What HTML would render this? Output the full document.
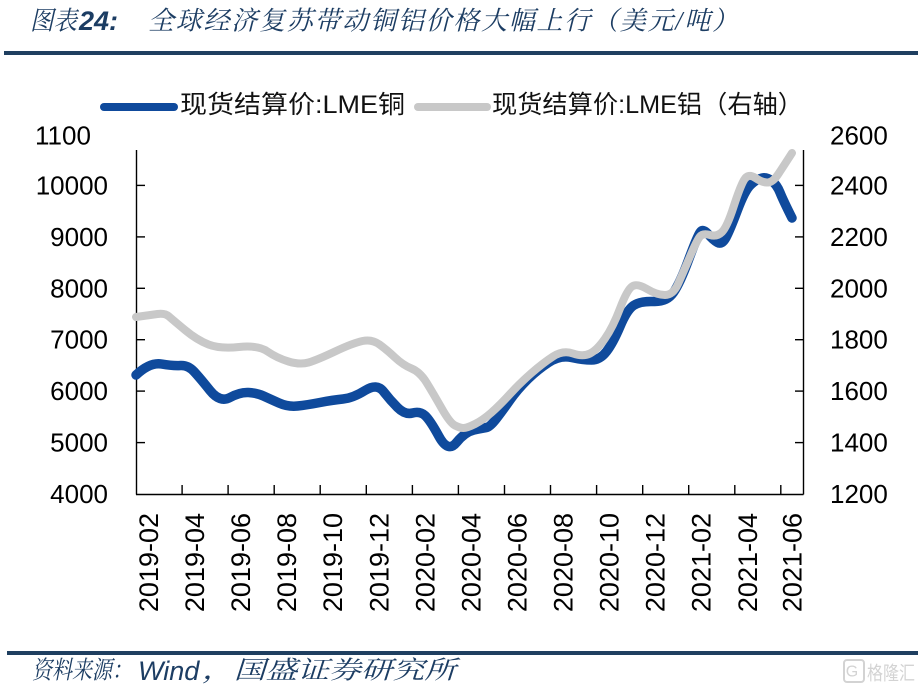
<!DOCTYPE html>
<html>
<head>
<meta charset="utf-8">
<style>
  html,body{margin:0;padding:0;background:#fff;}
  svg{display:block;}
</style>
</head>
<body>
<svg width="918" height="691" viewBox="0 0 918 691" xmlns="http://www.w3.org/2000/svg">
  <rect x="0" y="0" width="918" height="691" fill="#ffffff"/>

  <!-- Title -->
  <g font-family="'Liberation Serif','Noto Serif CJK SC',serif" font-style="italic" fill="#1c3d63">
    <text x="30" y="21" font-size="26" dominant-baseline="central" textLength="47" lengthAdjust="spacingAndGlyphs">图表</text>
    <text x="79" y="21" font-size="27" font-weight="bold" font-family="'Liberation Sans',sans-serif" dominant-baseline="central">24:</text>
    <text x="148" y="21" font-size="26" dominant-baseline="central" textLength="590" lengthAdjust="spacing">全球经济复苏带动铜铝价格大幅上行（美元/吨）</text>
  </g>
  <rect x="4" y="51" width="914" height="4" fill="#1f3f60"/>

  <!-- Legend -->
  <line x1="104" y1="107" x2="174" y2="107" stroke="#0f4a9c" stroke-width="8" stroke-linecap="round"/>
  <text x="180" y="105" font-size="25" font-family="'Liberation Sans','Noto Sans CJK SC',sans-serif" fill="#111" dominant-baseline="central" textLength="225" lengthAdjust="spacingAndGlyphs">现货结算价:LME铜</text>
  <line x1="418" y1="107" x2="487" y2="107" stroke="#c8c8c8" stroke-width="8" stroke-linecap="round"/>
  <text x="492" y="105" font-size="25" font-family="'Liberation Sans','Noto Sans CJK SC',sans-serif" fill="#111" dominant-baseline="central" textLength="311" lengthAdjust="spacingAndGlyphs">现货结算价:LME铝（右轴）</text>

  <!-- Axes -->
  <g stroke="#000" stroke-width="1.4" fill="none">
    <line x1="136.5" y1="150" x2="136.5" y2="494.5"/>
    <line x1="136" y1="494.5" x2="803.5" y2="494.5"/>
    <line x1="803.5" y1="150" x2="803.5" y2="494.5"/>
    <line x1="136" y1="442.6" x2="145" y2="442.6"/>
    <line x1="136" y1="391.1" x2="145" y2="391.1"/>
    <line x1="136" y1="339.7" x2="145" y2="339.7"/>
    <line x1="136" y1="288.3" x2="145" y2="288.3"/>
    <line x1="136" y1="236.9" x2="145" y2="236.9"/>
    <line x1="136" y1="185.4" x2="145" y2="185.4"/>
    <line x1="795" y1="442.6" x2="803.5" y2="442.6"/>
    <line x1="795" y1="391.1" x2="803.5" y2="391.1"/>
    <line x1="795" y1="339.7" x2="803.5" y2="339.7"/>
    <line x1="795" y1="288.3" x2="803.5" y2="288.3"/>
    <line x1="795" y1="236.9" x2="803.5" y2="236.9"/>
    <line x1="795" y1="185.4" x2="803.5" y2="185.4"/>
    <line x1="182.1" y1="485" x2="182.1" y2="494.5"/>
    <line x1="228.1" y1="485" x2="228.1" y2="494.5"/>
    <line x1="274.2" y1="485" x2="274.2" y2="494.5"/>
    <line x1="320.2" y1="485" x2="320.2" y2="494.5"/>
    <line x1="366.3" y1="485" x2="366.3" y2="494.5"/>
    <line x1="412.4" y1="485" x2="412.4" y2="494.5"/>
    <line x1="458.4" y1="485" x2="458.4" y2="494.5"/>
    <line x1="504.5" y1="485" x2="504.5" y2="494.5"/>
    <line x1="550.5" y1="485" x2="550.5" y2="494.5"/>
    <line x1="596.6" y1="485" x2="596.6" y2="494.5"/>
    <line x1="642.7" y1="485" x2="642.7" y2="494.5"/>
    <line x1="688.7" y1="485" x2="688.7" y2="494.5"/>
    <line x1="734.8" y1="485" x2="734.8" y2="494.5"/>
    <line x1="780.8" y1="485" x2="780.8" y2="494.5"/>
  </g>

  <!-- Left axis labels -->
  <g font-family="'Liberation Sans',sans-serif" font-size="26" fill="#000" text-anchor="end" dominant-baseline="central">
    <text x="108" y="494">4000</text>
    <text x="108" y="442.6">5000</text>
    <text x="108" y="391.1">6000</text>
    <text x="108" y="339.7">7000</text>
    <text x="108" y="288.3">8000</text>
    <text x="108" y="236.9">9000</text>
    <text x="108" y="185.4">10000</text>
  </g>
  <text x="35" y="135.5" font-family="'Liberation Sans',sans-serif" font-size="26" fill="#000" dominant-baseline="central">1100</text>

  <!-- Right axis labels -->
  <g font-family="'Liberation Sans',sans-serif" font-size="26" fill="#000" dominant-baseline="central">
    <text x="830" y="494">1200</text>
    <text x="830" y="442.6">1400</text>
    <text x="830" y="391.1">1600</text>
    <text x="830" y="339.7">1800</text>
    <text x="830" y="288.3">2000</text>
    <text x="830" y="236.9">2200</text>
    <text x="830" y="185.4">2400</text>
    <text x="830" y="135.5">2600</text>
  </g>

  <!-- X labels -->
  <g font-family="'Liberation Sans',sans-serif" font-size="27" fill="#000" text-anchor="end" dominant-baseline="central">
    <text transform="translate(149,513) rotate(-90)">2019-02</text>
    <text transform="translate(195.1,513) rotate(-90)">2019-04</text>
    <text transform="translate(241.1,513) rotate(-90)">2019-06</text>
    <text transform="translate(287.2,513) rotate(-90)">2019-08</text>
    <text transform="translate(333.2,513) rotate(-90)">2019-10</text>
    <text transform="translate(379.3,513) rotate(-90)">2019-12</text>
    <text transform="translate(425.4,513) rotate(-90)">2020-02</text>
    <text transform="translate(471.4,513) rotate(-90)">2020-04</text>
    <text transform="translate(517.5,513) rotate(-90)">2020-06</text>
    <text transform="translate(563.5,513) rotate(-90)">2020-08</text>
    <text transform="translate(609.6,513) rotate(-90)">2020-10</text>
    <text transform="translate(655.7,513) rotate(-90)">2020-12</text>
    <text transform="translate(701.7,513) rotate(-90)">2021-02</text>
    <text transform="translate(747.8,513) rotate(-90)">2021-04</text>
    <text transform="translate(792.5,513) rotate(-90)">2021-06</text>
  </g>

  <!-- Copper (blue) -->
  <path fill="none" stroke="#0f4a9c" stroke-width="9.5" stroke-linecap="round" stroke-linejoin="round"
    d="M136,375 Q150,362 161.5,364 Q173,366 180.5,365.5 Q188,365 194,371.5 Q200,378 210,390.5 Q220,403 230,397.5 Q240,392 248.5,392.5 Q257,393 263.5,396 Q270,399 279,403 Q288,407 297.5,406 Q307,405 320,402.5 Q333,400 343,399 Q353,398 365,390.5 Q377,383 383.5,391.5 Q390,400 397.5,407.5 Q405,415 412.5,413 Q420,411 425,415.5 Q430,420 439,436.5 Q448,453 456.5,442.5 Q465,432 474,430 Q483,428 486.5,427.5 Q490,427 496.5,418.5 Q503,410 510,400 Q517,390 527,380 Q537,370 548.5,362.5 Q560,355 571.5,357.5 Q583,360 591.5,360 Q600,360 606.5,351.5 Q613,343 620,326.5 Q627,310 633.5,305.5 Q640,301 653.5,301.5 Q667,302 673.5,292.5 Q680,283 688.5,260 Q697,237 700,232.5 Q703,228 708,234 Q713,240 717.5,242.5 Q722,245 726,237.5 Q730,230 737.5,210 Q745,190 751,184.5 Q757,179 762,178 Q767,177 772,181 Q777,185 780,192.5 Q783,200 792,218"/>

  <!-- Aluminium (gray) -->
  <path fill="none" stroke="#c8c8c8" stroke-width="8" stroke-linecap="round" stroke-linejoin="round"
    d="M136,317 Q150,315 157.5,314 Q165,313 169,316.5 Q173,320 185,330 Q197,340 208.5,344.5 Q220,349 239,347 Q258,345 267.5,351.5 Q277,358 288.5,361.5 Q300,365 308.5,362.5 Q317,360 335,351.5 Q353,343 362.5,341 Q372,339 379.5,344.5 Q387,350 395,357.5 Q403,365 411.5,368.5 Q420,372 426.5,382.5 Q433,393 441.5,408 Q450,423 455,425.5 Q460,428 463.5,428 Q467,428 475,424 Q483,420 491.5,412.5 Q500,405 510,394 Q520,383 531.5,373 Q543,363 553,356.5 Q563,350 573,353.5 Q583,357 590,353.5 Q597,350 605,338.5 Q613,327 620,308.5 Q627,290 632,286.5 Q637,283 647,289 Q657,295 665,295 Q673,295 678,284 Q683,273 690,256.5 Q697,240 700,236.5 Q703,233 710,235 Q717,237 722,232 Q727,227 733.5,207 Q740,187 744,180 Q748,173 755.5,178 Q763,183 768,182.5 Q773,182 778,174.5 Q783,167 792,153"/>

  <!-- Footer -->
  <rect x="7" y="651" width="911" height="4" fill="#1f3f60"/>
  <g font-style="italic" fill="#1c3d63" dominant-baseline="central">
    <text x="32" y="671" font-size="25" font-family="'Liberation Serif','Noto Serif CJK SC',serif" textLength="100" lengthAdjust="spacingAndGlyphs">资料来源：</text>
    <text x="138" y="671" font-size="27" font-family="'Liberation Sans',sans-serif">Wind</text>
    <text x="202" y="671" font-size="25" font-family="'Liberation Serif','Noto Serif CJK SC',serif" textLength="254" lengthAdjust="spacingAndGlyphs">，国盛证券研究所</text>
  </g>

  <!-- Watermark -->
  <g opacity="0.9">
    <rect x="844" y="660" width="20" height="22" rx="3" fill="none" stroke="#cfcfcf" stroke-width="2"/>
    <text x="852" y="672" font-size="16" fill="#cfcfcf" font-family="'Liberation Sans',sans-serif" dominant-baseline="central" text-anchor="middle">G</text>
    <text x="867" y="672" font-size="19" fill="#cfcfcf" font-family="'Noto Sans CJK SC',sans-serif" dominant-baseline="central" textLength="48" lengthAdjust="spacingAndGlyphs">格隆汇</text>
  </g>
</svg>
</body>
</html>
